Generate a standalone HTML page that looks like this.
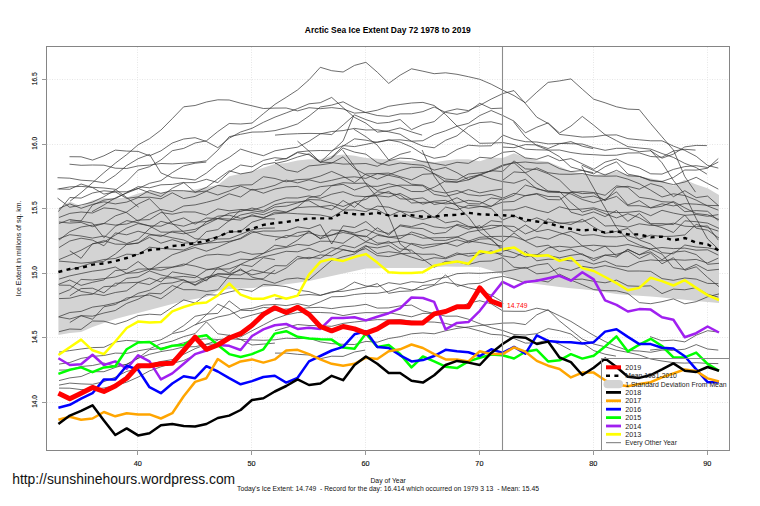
<!DOCTYPE html>
<html><head><meta charset="utf-8"><style>
html,body{margin:0;padding:0;background:#fff;width:760px;height:506px;overflow:hidden}
svg{position:absolute;left:0;top:0;font-family:"Liberation Sans",sans-serif}
</style></head><body>
<svg width="760" height="506" viewBox="0 0 760 506" style="white-space:pre">
<g stroke="#e6e6e6" stroke-width="1" stroke-dasharray="1,1.5" fill="none">
<line x1="137.5" y1="47" x2="137.5" y2="450"/>
<line x1="251.5" y1="47" x2="251.5" y2="450"/>
<line x1="365.5" y1="47" x2="365.5" y2="450"/>
<line x1="479.5" y1="47" x2="479.5" y2="450"/>
<line x1="593.5" y1="47" x2="593.5" y2="450"/>
<line x1="707.5" y1="47" x2="707.5" y2="450"/>
<line x1="47" y1="402.5" x2="730" y2="402.5"/>
<line x1="47" y1="337.5" x2="730" y2="337.5"/>
<line x1="47" y1="273.5" x2="730" y2="273.5"/>
<line x1="47" y1="208.5" x2="730" y2="208.5"/>
<line x1="47" y1="144.5" x2="730" y2="144.5"/>
<line x1="47" y1="79.5" x2="730" y2="79.5"/>
</g>
<polygon points="58.4,208.7 69.8,201.5 81.1,206.3 92.5,200.3 103.9,197.9 115.3,198.4 126.7,197.4 138.1,193.5 149.5,191.1 160.9,193.0 172.3,191.1 183.7,190.7 195.1,189.4 206.4,187.0 217.8,185.0 229.2,176.2 240.6,173.8 252.0,171.4 263.4,167.7 274.8,164.1 286.2,162.9 297.6,160.5 309.0,159.3 320.3,159.3 331.7,155.7 343.1,154.5 354.5,155.7 365.9,158.1 377.3,158.8 388.7,159.5 400.1,160.5 411.5,161.2 422.9,160.5 434.2,162.2 445.6,160.5 457.0,159.3 468.4,159.3 479.8,161.2 491.2,157.4 502.6,158.1 514.0,153.3 525.4,157.4 536.8,160.5 548.1,161.7 559.5,166.5 570.9,171.4 582.3,173.8 593.7,175.0 605.1,173.8 616.5,171.4 627.9,175.0 639.3,176.2 650.7,178.6 662.0,180.5 673.4,185.8 684.8,179.8 696.2,184.6 707.6,188.2 719.0,195.0 719.0,303.0 707.6,302.0 696.2,301.0 684.8,299.8 673.4,298.7 662.0,297.5 650.7,296.6 639.3,295.8 627.9,294.9 616.5,294.0 605.1,292.2 593.7,290.5 582.3,289.3 570.9,288.2 559.5,287.0 548.1,285.5 536.8,284.0 525.4,282.0 514.0,280.0 502.6,274.0 491.2,270.5 479.8,267.0 468.4,266.8 457.0,266.7 445.6,266.5 434.2,267.2 422.9,268.0 411.5,268.0 400.1,268.0 388.7,268.0 377.3,268.3 365.9,268.6 354.5,271.0 343.1,273.4 331.7,275.9 320.3,278.5 309.0,281.0 297.6,282.7 286.2,284.3 274.8,286.0 263.4,287.0 252.0,288.0 240.6,288.5 229.2,289.0 217.8,291.0 206.4,297.0 195.1,299.0 183.7,301.0 172.3,304.0 160.9,307.0 149.5,310.0 138.1,313.0 126.7,316.0 115.3,319.0 103.9,323.0 92.5,327.0 81.1,332.0 69.8,333.0 58.4,335.0" fill="#d3d3d3" stroke="none"/>
<g stroke="#333" stroke-width="0.72" fill="none" stroke-linejoin="miter">
<polyline points="70.1,201.1 81.1,192.7 92.5,182.7 103.9,172.7 115.3,163.2 126.7,154.6 138.1,144.8 149.5,138.7 160.9,130.1 172.3,118.6 183.7,106.8 195.1,105.5 206.4,102.0 217.8,99.8 229.2,100.0 240.6,103.2 252.0,105.8 263.4,108.5 275.0,108.1"/>
<polyline points="69.5,156.7 81.1,156.8 92.5,160.1 103.9,155.8 115.3,150.1 126.7,151.1 138.1,151.4 149.5,155.8 160.9,150.9 172.3,143.0 183.7,139.0 195.1,137.7 206.4,141.5 217.8,147.7 229.2,138.2 240.6,132.0 252.0,128.3 263.4,122.3 275.0,117.1"/>
<polyline points="69.5,164.2 81.1,165.3 92.5,165.0 103.9,165.2 115.3,168.2 126.7,168.5 138.1,165.9 149.5,165.1 160.9,163.5 172.3,163.9 183.7,163.2 195.1,162.4 206.4,160.8 217.8,150.2 229.2,136.7 240.6,134.3 252.0,132.1 263.4,131.9 275.0,130.6"/>
<polyline points="57.5,177.7 69.8,178.2 81.1,180.2 92.5,180.9 103.9,182.8 115.3,175.3 126.7,165.6 138.1,158.7 149.5,154.4 160.9,172.9 172.3,177.7 183.7,178.6 195.1,180.0 206.4,173.1 217.8,163.8 229.2,157.4 240.6,149.1 252.0,152.7 263.4,155.7 275.0,150.8"/>
<polyline points="57.5,189.1 69.8,186.9 81.1,186.4 92.5,187.3 103.9,188.0 115.3,189.3 126.7,197.5 138.6,207.1"/>
<polyline points="57.5,198.1 69.8,207.3 81.1,205.0 92.5,202.1 103.9,196.7 115.3,190.1 126.7,181.8 138.1,170.1 149.5,166.7 160.9,160.0 172.3,150.7 183.7,148.4 195.1,143.0 206.4,140.8 217.8,131.6 229.2,123.5 240.6,124.0 252.0,123.1 263.4,113.7 275.0,104.3"/>
<polyline points="92.0,211.7 103.9,205.0 115.3,197.9 126.7,193.0 138.1,188.6 149.5,183.3 160.9,180.7 172.3,172.6 183.7,165.9 195.1,163.2 206.2,162.1"/>
<polyline points="275.0,104.3 286.2,97.3 297.6,89.9 309.0,79.8 320.3,67.3 331.7,70.7 343.1,72.0 354.5,65.4 365.9,62.3 377.3,72.2 388.7,83.4 400.1,75.2 411.5,68.8 422.9,71.2 434.2,73.7 445.6,72.8 457.0,74.3 468.4,76.7 479.8,79.3 491.2,84.2 503.0,90.3"/>
<polyline points="275.0,108.1 286.2,108.0 297.6,110.9 309.0,107.7 320.3,108.7 331.7,107.6 343.1,108.9 354.5,113.1 365.9,112.4 377.3,110.2 388.7,106.3 400.1,104.5 411.5,103.0 422.9,102.4 434.2,105.5 445.6,114.5 457.0,126.0 468.4,134.4 479.8,143.3 491.2,143.1 503.0,142.6"/>
<polyline points="275.0,117.1 286.2,112.9 297.6,108.6 309.0,103.8 320.3,102.7 331.7,97.4 343.1,107.6 354.5,117.4 365.9,123.2 377.3,132.1 388.7,130.8 400.1,127.9 411.5,131.9 422.1,135.1"/>
<polyline points="275.0,130.6 286.2,127.7 297.6,123.9 309.0,116.1 320.3,107.0 331.7,105.1 343.1,101.8 354.5,107.9 365.9,112.6 377.3,115.5 388.7,116.4 400.1,113.9 411.5,113.8 422.9,111.6 434.2,107.0 445.6,112.4 457.0,114.3 468.4,111.5 479.8,103.3 491.2,108.6 502.9,108.1"/>
<polyline points="275.0,135.1 286.2,134.2 297.6,133.7 309.0,133.4 320.3,133.6 331.7,134.6 343.1,125.0 354.5,114.9 365.9,119.6 377.3,123.4 388.7,122.4 400.1,119.5 411.5,129.7 422.9,124.5 434.2,121.6 445.6,111.6 457.0,108.9 468.4,110.6 479.8,105.3 491.2,99.1 503.0,93.5"/>
<polyline points="275.0,150.8 286.2,148.9 297.6,147.2 309.0,141.3 320.3,133.9 331.7,131.5 343.1,130.6 354.5,128.4 365.9,130.0 377.3,129.8 388.7,131.8 400.1,134.2 411.5,141.3 422.9,146.1 434.2,147.8 445.6,140.3 457.0,135.8 468.4,126.5 479.8,122.6 491.2,121.8 502.9,124.6"/>
<polyline points="297.5,141.1 309.0,151.2 320.3,162.1 331.7,151.6 343.1,140.9 353.7,115.6"/>
<polyline points="331.2,157.6 343.1,146.1 354.5,138.8 365.9,140.2 377.3,142.4 388.7,140.1 400.1,139.8 411.5,141.2 422.9,140.7 434.2,134.6 445.6,130.8 457.0,126.2 468.4,123.4 479.8,115.5 491.2,110.5 503.0,115.6"/>
<polyline points="275.0,160.6 286.2,158.5 297.6,152.0 309.0,150.9 320.3,150.5 331.7,150.7 343.1,145.6 354.5,146.6 365.9,144.4 377.3,142.0 388.7,139.9 400.1,142.1 411.5,147.0 422.9,154.2 434.2,158.3 445.6,156.3 457.0,149.5 468.4,145.2 479.8,146.0 491.2,145.8 503.0,135.1"/>
<polyline points="353.7,129.1 365.9,136.7 377.3,145.2 388.7,160.0 400.1,154.3 410.7,151.6"/>
<polyline points="503.0,93.5 514.0,90.6 525.4,103.5 536.8,117.2 548.1,123.4 559.5,134.4 570.9,135.7 582.3,137.1 593.7,136.8 605.1,135.1 616.5,134.9 627.9,138.7 639.3,139.8 650.7,140.8 662.0,140.8 673.4,146.1 684.8,150.4 696.2,156.3 707.6,165.4 718.3,168.1"/>
<polyline points="503.0,90.3 514.0,95.6 525.4,102.8 536.8,92.2 548.1,82.4 559.5,80.9 570.9,78.9 582.3,89.2 593.7,99.2 605.1,102.8 616.5,106.8 627.9,109.1 639.3,109.6 650.7,123.6 662.0,136.8 673.4,150.0 684.8,176.6 695.5,192.1"/>
<polyline points="503.0,115.6 514.0,121.1 525.4,132.8 536.8,127.2 548.1,122.9 559.5,133.0 570.9,126.1 582.3,116.4 593.7,125.2 605.1,134.7 616.5,140.7 627.9,146.7 639.3,148.0 650.7,149.1 662.0,153.5 673.4,157.4 684.8,163.4 696.2,167.6 706.9,174.1"/>
<polyline points="503.0,135.1 514.0,139.3 525.4,141.7 536.8,142.0 548.1,143.9 559.5,143.4 570.9,143.7 582.3,144.0 593.7,147.7 605.1,150.3 616.5,148.3 627.9,148.4 639.3,151.7 650.7,150.8 662.0,158.2 673.4,154.1 684.8,146.9 696.2,145.4 706.9,145.6"/>
<polyline points="503.0,142.6 514.0,144.6 525.4,149.2 536.8,149.8 548.1,150.1 559.5,150.0 570.9,152.5 582.3,154.1 593.7,154.7 605.1,155.4 616.5,155.2 627.9,153.0 639.3,152.9 650.7,156.5 662.0,157.2 673.4,151.0 684.8,149.3 695.5,150.1"/>
<polyline points="503.0,147.1 514.0,147.7 525.4,144.6 536.8,144.9 548.1,148.5 559.5,143.8 570.9,141.6 582.3,146.2 593.1,148.6"/>
<polyline points="513.5,121.6 525.4,136.7 536.8,145.6 548.1,150.1 559.5,156.7 570.9,167.0 582.3,170.3 593.7,173.9 605.1,166.7 616.5,161.8 627.9,174.1 639.3,176.4 650.7,180.1 662.0,181.9 673.4,184.6 684.8,182.0 696.2,177.3 707.6,183.5 718.3,189.1"/>
<polyline points="581.7,165.1 593.7,170.5 605.1,175.0 616.5,170.3 627.9,175.8 639.3,176.4 650.7,180.8 662.0,181.5 673.4,177.5 684.8,170.0 696.2,170.1 707.6,168.2 718.3,158.5"/>
<polyline points="503.0,165.8 514.0,162.8 525.4,162.0 536.8,163.2 548.1,162.9 559.5,168.6 570.9,171.6 582.3,170.5 593.1,172.6"/>
<polyline points="59.0,189.0 69.8,189.3 81.1,184.0 92.5,187.6 103.9,194.1 115.3,191.9 126.7,198.4 138.1,196.9 149.5,190.4 160.9,193.3 172.3,190.6 183.7,190.7 195.1,192.2 206.4,191.0 217.8,185.4 229.2,186.9 240.6,185.0 252.0,184.8 263.4,176.7 275.0,178.5"/>
<polyline points="59.0,208.5 69.8,203.8 81.1,208.3 92.5,204.4 103.9,201.8 115.3,203.9 126.7,202.1 138.1,197.6 149.5,197.2 160.9,198.8 172.3,192.8 183.7,198.6 195.1,196.4 206.4,191.3 217.8,195.0 229.2,191.0 240.6,186.1 252.0,190.1 263.4,188.5 275.0,185.3"/>
<polyline points="59.0,217.5 69.8,213.4 81.1,212.0 92.5,213.0 103.9,207.9 115.3,208.9 126.7,212.7 138.1,221.1 149.5,214.2 160.9,209.4 172.3,211.7 183.7,206.0 195.1,204.9 206.4,202.3 217.8,199.3 229.2,193.8 240.6,197.0 252.0,189.2 263.4,193.2 275.0,189.0"/>
<polyline points="59.0,222.0 69.8,223.1 81.1,222.4 92.5,226.7 103.9,223.5 115.3,225.1 126.7,224.0 138.1,220.1 149.5,219.6 160.9,212.5 172.3,214.2 183.7,211.9 195.1,212.0 206.4,215.1 217.8,208.9 229.2,210.8 240.6,209.5 252.0,210.2 263.4,206.7 275.0,201.0"/>
<polyline points="59.0,223.5 69.8,219.5 81.1,221.2 92.5,223.1 103.9,237.7 115.3,226.4 126.7,220.6 138.1,222.8 149.5,226.0 160.9,232.1 172.3,232.2 183.7,233.8 195.1,231.6 206.4,221.9 217.8,216.2 229.2,215.2 240.6,218.4 252.0,216.0 263.4,217.5 275.0,213.8"/>
<polyline points="59.0,240.1 69.8,231.6 81.1,227.0 92.5,225.2 103.9,223.5 115.3,215.9 126.7,212.0 138.1,204.0 149.5,198.7 160.9,210.2 172.3,223.5 183.7,232.0 195.1,238.7 206.4,239.6 217.8,236.8 229.2,232.0 240.6,231.6 252.0,222.2 263.4,218.7 274.9,219.0"/>
<polyline points="59.0,247.6 69.8,241.0 81.1,238.2 92.5,240.1 103.9,245.8 115.3,232.9 126.7,234.8 138.1,231.2 149.5,234.1 160.9,236.5 172.3,231.3 183.7,231.2 195.1,229.3 206.4,224.2 217.8,218.6 229.2,220.9 240.6,215.0 252.0,212.6 263.4,214.7 275.0,210.0"/>
<polyline points="59.0,259.6 69.8,255.1 81.1,250.2 92.5,244.0 103.9,240.7 115.3,244.1 126.7,244.4 138.1,243.0 149.5,235.0 160.9,235.2 172.3,237.8 183.7,240.0 195.1,244.8 206.4,243.2 217.8,239.0 229.2,238.8 240.6,234.3 252.0,229.7 263.4,228.2 274.9,228.0"/>
<polyline points="59.0,261.1 69.8,262.0 81.1,263.2 92.5,262.1 103.9,259.5 115.3,258.5 126.7,254.2 138.1,254.6 149.5,247.2 160.9,248.4 172.3,249.2 183.7,250.0 195.1,245.2 206.4,243.1 217.8,242.4 229.2,241.3 240.6,238.8 252.0,232.7 263.4,231.0 275.0,231.1"/>
<polyline points="59.0,279.1 69.8,275.9 81.1,273.5 92.5,271.2 103.9,269.7 115.3,267.0 126.7,273.3 138.1,269.1 149.5,268.9 160.9,267.4 172.3,267.1 183.7,264.0 195.1,266.1 206.4,269.3 217.8,269.2 229.2,268.9 240.6,264.6 252.0,266.5 263.4,257.7 274.9,259.6"/>
<polyline points="59.0,285.1 69.8,285.3 81.1,291.4 92.5,293.5 103.9,295.5 115.3,292.5 126.7,290.8 138.1,282.5 149.5,284.6 160.9,278.2 172.3,277.8 183.7,280.0 195.1,285.4 206.4,279.6 217.8,273.8 229.2,274.6 240.6,275.0 252.0,269.8 263.4,272.2 275.0,265.6"/>
<polyline points="59.0,294.1 69.8,289.7 81.1,279.4 92.5,280.0 103.9,278.6 115.3,277.0 126.7,273.3 138.1,272.6 149.5,269.2 160.9,270.3 172.3,267.3 183.7,265.5 195.1,258.9 206.4,255.1 217.8,254.3 229.2,255.3 240.6,251.7 252.0,254.3 263.4,253.4 275.0,249.1"/>
<polyline points="59.0,298.6 69.8,298.2 81.1,295.2 92.5,294.3 103.9,286.7 115.3,285.9 126.7,278.4 138.1,277.0 149.5,270.9 160.9,274.9 172.3,277.4 183.7,276.4 195.1,277.7 206.4,270.1 217.8,267.5 229.2,263.2 240.6,259.2 252.0,259.6 263.4,256.8 275.0,254.3"/>
<polyline points="59.0,316.6 69.8,312.5 81.1,311.4 92.5,307.1 103.9,305.5 115.3,303.0 126.7,299.8 138.1,293.3 149.5,290.3 160.9,283.8 172.3,282.9 183.7,279.9 195.1,284.8 206.4,277.7 217.8,275.7 229.2,278.6 240.6,278.6 252.0,279.4 263.4,278.7 274.9,270.1"/>
<polyline points="59.0,331.7 69.8,329.0 81.1,329.4 92.5,321.0 103.9,321.2 115.3,324.4 126.7,320.9 138.1,315.6 149.5,314.2 160.9,314.9 172.3,307.3 183.7,299.9 195.1,303.0 206.4,294.6 217.8,295.2 229.2,292.0 240.6,289.4 252.0,291.4 263.4,284.5 275.0,285.3"/>
<polyline points="275.0,163.5 286.2,161.0 297.6,157.0 309.0,153.8 320.3,162.1 331.7,162.6 343.1,164.1 354.5,163.9 365.9,163.5 377.3,166.3 388.7,160.7 400.1,158.1 411.5,158.7 422.9,161.7 434.2,163.4 445.6,165.4 457.0,162.3 468.4,163.4 479.8,157.3 491.2,158.2 503.0,152.3"/>
<polyline points="275.0,178.5 286.2,181.8 297.6,179.6 309.0,179.1 320.3,176.1 331.7,171.4 343.1,176.3 354.5,182.6 365.9,173.9 377.3,173.6 388.7,173.1 400.1,176.7 411.5,179.9 422.9,174.3 434.2,173.6 445.6,179.0 457.0,180.0 468.4,174.0 479.8,172.9 491.2,171.3 503.0,165.8"/>
<polyline points="275.0,185.3 286.2,180.1 297.6,182.9 309.0,179.8 320.3,182.6 331.7,180.3 343.1,177.6 354.5,176.8 365.9,178.4 377.3,173.6 388.7,175.3 400.1,177.8 411.5,184.2 422.9,185.1 434.2,191.2 445.6,193.0 457.0,190.5 468.4,194.6 479.8,195.9 491.2,194.4 503.0,198.0"/>
<polyline points="275.0,189.0 286.2,186.9 297.6,186.4 309.0,190.2 320.3,186.7 331.7,185.5 343.1,182.7 354.5,183.4 365.9,183.1 377.3,190.7 388.7,187.2 400.1,185.1 411.5,185.3 422.9,185.8 434.2,194.4 445.6,196.4 457.0,193.6 468.4,189.6 479.8,192.9 491.2,190.6 502.9,189.0"/>
<polyline points="275.0,201.0 286.2,197.9 297.6,198.0 309.0,195.9 320.3,198.3 331.7,194.2 343.1,191.7 354.5,195.9 365.9,196.7 377.3,195.8 388.7,196.9 400.1,193.4 411.5,199.1 422.9,197.9 434.2,204.5 445.6,202.6 457.0,197.7 468.4,203.6 479.8,204.0 491.2,198.0 503.0,199.5"/>
<polyline points="275.0,210.0 286.2,212.0 297.6,207.7 309.0,206.8 320.3,206.7 331.7,205.3 343.1,210.1 354.5,209.9 365.9,211.7 377.3,206.1 388.7,207.2 400.1,211.2 411.5,217.0 422.9,219.4 434.2,216.6 445.6,222.8 457.0,221.0 468.4,226.3 479.8,228.0 491.2,220.7 502.9,222.1"/>
<polyline points="275.0,213.8 286.2,213.0 297.6,213.8 309.0,214.3 320.3,215.0 331.7,217.3 343.1,210.4 354.5,202.0 365.9,199.4 377.3,191.8 388.7,193.1 400.1,195.1 411.5,203.0 422.9,202.4 434.2,202.1 445.6,203.9 457.0,203.0 468.4,200.3 479.8,201.7 491.2,206.6 502.9,198.0"/>
<polyline points="275.0,231.1 286.2,230.6 297.6,226.9 309.0,228.7 320.3,224.6 331.7,244.0 343.1,225.8 354.5,227.5 365.9,221.5 377.3,230.8 388.7,233.5 400.1,225.9 411.5,227.9 422.9,228.6 434.2,233.8 445.6,232.5 457.0,224.3 468.4,227.0 479.8,227.9 491.2,225.3 503.0,225.8"/>
<polyline points="275.0,240.1 286.2,235.5 297.6,236.4 309.0,232.8 320.3,235.9 331.7,235.0 343.1,232.5 354.5,234.8 365.9,241.6 377.3,235.3 388.7,237.2 400.1,235.7 411.5,234.2 422.9,238.2 434.2,237.8 445.6,237.6 457.0,236.9 468.4,241.1 479.8,237.3 491.2,236.5 503.0,236.3"/>
<polyline points="275.0,249.1 286.2,247.5 297.6,244.4 309.0,245.5 320.3,241.2 331.7,241.3 343.1,243.3 354.5,235.6 365.9,236.1 377.3,243.1 388.7,243.0 400.1,241.3 411.5,244.1 422.9,248.2 434.2,246.1 445.6,243.0 457.0,246.3 468.4,241.1 479.8,242.5 491.2,244.6 502.9,246.1"/>
<polyline points="275.0,254.3 286.2,251.3 297.6,251.8 309.0,248.2 320.3,252.3 331.7,247.7 343.1,249.5 354.5,252.1 365.9,248.6 377.3,255.6 388.7,256.6 400.1,253.8 411.5,253.1 422.9,254.3 434.2,254.1 445.6,257.8 457.0,252.9 468.4,256.2 479.8,254.7 491.2,250.7 503.0,255.9"/>
<polyline points="275.0,265.6 286.2,265.9 297.6,256.4 309.0,258.8 320.3,254.9 331.7,255.8 343.1,249.9 354.5,251.9 365.9,245.4 377.3,253.5 388.7,251.7 400.1,253.1 411.5,257.1 422.9,260.6 434.2,257.7 445.6,258.7 457.0,254.6 468.4,253.5 479.8,252.7 491.2,252.5 502.9,253.6"/>
<polyline points="342.6,150.0 354.5,166.7 365.9,183.9 377.3,197.4 388.7,216.4 400.1,243.9 410.7,252.1"/>
<polyline points="422.1,150.0 434.2,176.3 445.6,192.0 457.0,206.1 468.4,216.9 479.8,232.2 491.2,239.9 503.0,249.1"/>
<polyline points="503.0,180.0 514.0,171.9 525.4,172.7 536.8,167.8 548.1,172.7 559.5,174.2 570.9,174.3 582.3,173.5 593.7,175.9 605.1,176.2 616.5,176.0 627.9,179.2 639.3,183.7 650.7,190.2 662.0,197.0 673.4,193.8 684.8,195.5 696.2,200.1 707.6,206.0 718.3,210.1"/>
<polyline points="503.0,199.5 514.0,195.3 525.4,185.1 536.8,188.2 548.1,192.2 559.5,192.4 570.9,192.6 582.3,191.6 593.7,192.5 605.1,195.3 616.5,185.9 627.9,187.4 639.3,197.3 650.7,198.9 662.0,201.7 673.4,202.3 684.8,211.7 696.2,210.6 707.6,211.3 718.3,220.6"/>
<polyline points="503.0,198.0 514.0,193.3 525.4,195.8 536.8,194.0 548.1,199.5 559.5,199.8 570.9,192.1 582.3,197.6 593.7,196.1 605.1,200.1 616.5,196.4 627.9,205.8 639.3,205.7 650.7,207.7 662.0,203.8 673.4,205.9 684.8,203.6 696.2,204.2 707.6,205.4 718.3,205.6"/>
<polyline points="503.0,210.1 514.0,209.9 525.4,206.5 536.8,210.1 548.1,212.7 559.5,206.8 570.9,209.7 582.3,209.0 593.7,207.8 605.1,211.2 616.5,212.6 627.9,212.3 639.3,211.1 650.7,215.7 662.0,210.3 673.4,213.1 684.8,215.3 696.2,214.5 707.6,216.3 718.3,214.6"/>
<polyline points="503.0,225.8 514.0,226.5 525.4,233.9 536.8,229.5 548.1,218.7 559.5,223.7 570.9,222.1 582.3,221.8 593.7,217.3 605.1,226.0 616.5,225.6 627.9,227.1 639.3,223.8 650.7,225.4 662.0,225.2 673.4,223.2 684.8,226.2 696.2,226.8 707.6,225.9 718.3,240.1"/>
<polyline points="503.0,236.3 514.0,236.9 525.4,240.6 536.8,236.9 548.1,239.2 559.5,234.5 570.9,231.4 582.3,235.4 593.7,234.7 605.1,236.7 616.5,236.9 627.9,235.7 639.3,239.2 650.7,235.1 662.0,236.5 673.4,236.2 684.8,234.9 696.2,224.4 707.6,227.6 718.3,231.1"/>
<polyline points="503.0,249.1 514.0,252.8 525.4,256.9 536.8,254.9 548.1,247.8 559.5,246.3 570.9,247.4 582.3,246.0 593.7,245.2 605.1,246.2 616.5,246.4 627.9,244.5 639.3,247.0 650.7,248.9 662.0,247.5 673.4,248.6 684.8,248.1 696.2,250.2 707.6,249.8 718.3,255.1"/>
<polyline points="503.0,255.9 514.0,257.7 525.4,251.5 536.8,260.8 548.1,259.2 559.5,259.3 570.9,261.0 582.3,260.2 593.7,264.1 605.1,261.0 616.5,265.9 627.9,266.8 639.3,261.7 650.7,259.9 662.0,260.8 673.4,259.6 684.8,260.2 696.2,259.4 707.6,263.0 718.3,258.1"/>
<polyline points="503.0,271.8 514.0,269.8 525.4,267.3 536.8,273.8 548.1,272.9 559.5,267.9 570.9,270.4 582.3,266.4 593.7,268.0 605.1,265.6 616.5,268.1 627.9,271.1 639.3,271.0 650.7,271.4 662.0,278.6 673.4,280.3 684.8,278.0 696.2,279.1 707.6,283.4 718.3,283.6"/>
<polyline points="503.0,276.3 514.0,279.1 525.4,283.0 536.8,279.9 548.1,282.0 559.5,274.2 570.9,279.6 582.3,279.1 593.7,281.3 605.1,282.8 616.5,280.1 627.9,285.9 639.3,286.3 650.7,285.8 662.0,293.6 673.4,289.1 684.8,289.8 696.2,287.6 707.6,294.2 718.3,297.1"/>
<polyline points="581.7,166.5 593.7,188.1 605.1,207.9 616.5,227.5 627.9,239.9 639.3,245.0 650.1,249.1"/>
<polyline points="650.1,150.0 662.0,162.8 673.4,180.4 684.8,194.7 696.2,218.6 707.6,238.9 718.3,249.1"/>
<polyline points="503.0,152.3 514.0,151.2 525.4,157.9 536.8,159.3 548.1,155.5 559.5,160.7 570.9,158.6 582.3,163.8 593.7,169.3 605.1,162.1 616.5,159.0 627.9,164.5 639.3,167.9 650.7,173.8 662.0,174.1 673.4,169.4 684.8,166.6 696.2,165.7 707.6,167.5 718.3,162.0"/>
<polyline points="59.0,352.1 69.8,350.6 81.1,349.0 92.5,347.6 103.9,347.3 115.3,342.0 126.7,340.4 138.1,341.3 149.5,342.3 160.9,339.8 172.3,333.6 183.7,331.1 195.1,324.7 206.4,320.8 217.8,317.0 229.2,314.7 240.6,310.2 252.0,310.7 263.4,307.4 274.9,308.5"/>
<polyline points="59.0,364.1 69.8,362.5 81.1,358.4 92.5,356.4 103.9,355.5 115.3,353.1 126.7,353.4 138.1,350.8 149.5,348.8 160.9,343.7 172.3,341.1 183.7,336.6 195.1,333.6 206.4,321.8 217.8,333.8 229.2,335.3 240.6,336.8 252.0,330.8 263.4,324.9 275.0,318.8"/>
<polyline points="59.0,370.1 69.8,369.9 81.1,366.5 92.5,365.5 103.9,363.0 115.3,366.3 126.7,364.5 138.1,358.2 149.5,349.7 160.9,348.3 172.3,345.8 183.7,342.8 195.1,339.8 206.4,338.8 217.8,339.5 229.2,338.7 240.6,339.4 252.0,339.9 263.4,340.3 275.0,339.8"/>
<polyline points="59.0,380.6 69.8,377.9 81.1,376.5 92.5,371.7 103.9,371.7 115.3,367.5 126.7,364.2 138.1,358.3 149.5,354.3 160.9,351.6 172.3,349.7 183.7,346.9 195.1,346.7 206.4,344.2 217.8,344.1 229.2,335.1 240.6,339.5 252.0,345.0 263.4,344.1 274.9,343.1"/>
<polyline points="59.0,385.1 69.8,383.1 81.1,383.9 92.5,384.3 103.9,381.7 115.3,377.2 126.7,371.4 138.1,368.7 149.5,364.8 160.9,361.5 172.3,359.6 183.7,354.3 195.1,348.7 206.4,344.3 218.2,340.1"/>
<polyline points="59.0,388.1 69.8,388.2 81.1,389.6 92.5,389.1 103.9,388.0 115.3,385.5 126.7,382.2 138.1,377.1 149.5,370.9 160.9,366.8 172.3,363.4 183.7,360.5 195.3,355.1"/>
<polyline points="172.5,332.6 183.7,325.6 195.1,316.3 206.4,314.1 217.8,313.4 229.2,300.9 240.6,309.6 252.0,308.3 263.4,305.1 275.0,304.5"/>
<polyline points="195.3,325.0 206.4,314.7 217.8,304.1 229.2,309.3 240.6,318.3 252.0,315.1 263.4,312.1 275.0,310.5"/>
<polyline points="275.0,285.3 286.2,286.6 297.6,290.1 309.0,291.6 320.3,295.3 331.7,292.6 343.1,288.9 354.5,282.1 365.9,286.0 377.3,286.8 388.7,282.7 400.1,284.3 411.5,281.7 422.9,282.6 434.2,279.4 445.6,277.4 457.0,273.7 468.4,273.0 479.8,273.4 491.2,272.6 503.0,271.8"/>
<polyline points="275.0,299.0 286.2,298.4 297.6,295.5 309.0,294.5 320.3,295.4 331.7,291.8 343.1,291.3 354.5,289.3 365.9,287.1 377.3,283.6 388.7,293.3 400.1,291.4 411.5,290.9 422.9,285.4 434.2,284.6 445.6,274.9 457.0,286.3 468.4,283.9 479.8,283.3 491.2,278.4 503.0,276.3"/>
<polyline points="275.0,304.5 286.2,305.6 297.6,303.7 309.0,306.1 320.3,301.8 331.7,296.8 343.1,296.5 354.5,294.5 365.9,293.4 377.3,293.3 388.7,291.4 400.1,287.6 411.5,289.9 422.9,289.4 434.2,285.3 445.6,282.3 457.0,284.3 468.4,287.7 479.8,290.7 491.2,295.1 502.9,302.0"/>
<polyline points="275.0,310.5 286.2,309.0 297.6,309.1 309.0,307.7 320.3,307.3 331.7,308.6 343.1,306.9 354.5,306.0 365.9,304.3 377.3,308.1 388.7,307.9 400.1,305.9 411.5,305.1 422.9,310.9 434.2,313.5 445.6,312.6 457.0,308.8 468.4,303.2 479.8,300.7 491.2,303.8 503.0,311.1"/>
<polyline points="275.0,318.8 286.2,314.9 297.6,312.6 309.0,312.4 320.3,312.5 331.7,313.0 343.1,315.6 354.5,313.6 365.9,312.6 377.3,312.8 388.7,312.7 400.1,314.7 411.5,316.8 422.9,313.4 434.2,313.3 445.6,316.2 457.0,316.1 468.4,319.2 479.8,323.7 491.2,327.7 503.0,330.6"/>
<polyline points="275.0,330.6 286.2,327.5 297.6,324.5 309.0,325.5 320.3,325.7 331.7,326.3 343.1,323.4 354.5,322.0 365.9,320.8 377.3,319.6 388.7,319.9 400.1,319.5 411.5,321.2 422.9,321.8 434.2,322.1 445.6,323.4 457.0,326.3 468.4,327.9 479.8,331.0 491.2,334.3 503.0,335.1"/>
<polyline points="275.0,339.8 286.2,338.2 297.6,338.6 309.0,338.2 320.3,341.9 331.7,343.6 343.1,344.3 354.5,344.5 365.9,341.4 377.3,342.2 388.7,338.5 400.1,336.7 411.5,333.8 422.9,332.9 434.2,333.8 445.6,330.8 457.0,328.4 468.4,326.9 479.8,325.5 491.2,324.4 503.0,323.1"/>
<polyline points="275.0,353.1 286.2,353.1 297.6,354.3 309.0,355.0 320.3,358.7 331.7,356.2 343.1,356.4 354.5,352.0 365.1,350.1"/>
<polyline points="503.0,311.1 514.0,311.3 525.4,311.3 536.8,308.2 548.1,310.4 559.5,315.8 570.9,321.4 582.3,328.5 593.7,335.4 605.1,341.5 616.5,346.5 627.9,350.5 639.3,351.0 650.7,352.3 662.0,350.1 672.7,350.1"/>
<polyline points="503.0,323.1 514.0,322.9 525.4,324.6 536.8,314.8 548.1,309.7 559.5,320.9 570.9,330.1 582.3,339.1 593.7,344.0 605.1,346.8 615.9,350.1"/>
<polyline points="503.0,330.6 514.0,334.5 525.4,335.0 536.8,333.7 548.1,328.6 559.5,330.7 570.9,334.0 582.3,342.9 593.7,350.6 605.1,354.2 615.9,356.1"/>
<polyline points="503.0,335.1 514.0,338.5 525.4,343.1 536.8,342.8 548.1,339.9 559.5,344.3 570.6,350.1"/>
<polyline points="650.1,336.6 662.0,340.8 673.4,340.1 684.8,341.9 696.2,335.2 707.6,330.7 718.3,332.1"/>
<polyline points="650.1,350.1 662.0,348.8 673.4,350.3 684.8,349.2 696.2,344.6 707.6,349.0 718.3,350.1"/>
<polyline points="615.9,350.1 627.9,352.3 639.3,355.0 650.7,359.0 662.0,361.0 673.4,362.6 684.8,363.1 696.2,362.7 707.6,363.4 718.3,363.6"/>
<polyline points="58.4,211.6 69.8,197.5 81.1,198.1 92.5,193.0 103.9,190.8 115.3,191.8 126.7,191.8 138.1,188.4 149.5,192.8 160.9,196.5 172.3,188.3 183.7,182.7 195.1,182.6 206.4,179.3 217.8,182.6 229.2,172.1 240.6,165.0 252.0,166.8 263.4,160.4 274.8,157.7 286.2,158.9 297.6,152.6 309.0,154.7 320.3,162.4 331.7,158.0 343.1,148.1 354.5,152.1 365.9,154.2 377.3,162.7 388.7,165.4 400.1,163.0 411.5,164.4 422.9,165.3 434.2,170.1 445.6,167.4 457.0,172.7 468.4,179.6 479.8,174.5 491.2,170.7 502.6,171.5 514.0,160.9 525.4,168.9 536.8,169.5 548.1,173.7 559.5,180.0 570.9,191.2 582.3,193.6 593.7,193.1 605.1,200.8 616.5,187.4 627.9,186.3 639.3,189.2 650.7,183.6 662.0,186.7 673.4,196.7 684.8,190.7 696.2,197.6 707.6,196.1 719.0,206.1"/>
<polyline points="69.8,221.1 81.1,220.9 92.5,205.1 103.9,200.1 115.3,198.6 126.7,192.7 138.1,186.6 149.5,187.8 160.9,184.8 172.3,184.4 183.7,182.5 195.1,192.3 206.4,187.4 217.8,179.0 229.2,170.8 240.6,173.9 252.0,171.9 263.4,164.7 274.8,162.5 286.2,169.9 297.6,172.1 309.0,165.9 320.3,164.9 331.7,163.2 343.1,156.8 354.5,168.6 365.9,174.7 377.3,179.2 388.7,174.7 400.1,170.5 411.5,167.3 422.9,167.4 434.2,173.8 445.6,181.9 457.0,182.2 468.4,177.3 479.8,174.8 491.2,178.8 502.6,181.6 514.0,183.2 525.4,179.3 536.8,189.0 548.1,191.2 559.5,192.2 570.9,193.9 582.3,199.5 593.7,202.7 605.1,199.3 616.5,191.8 627.9,204.9 639.3,200.6 650.7,208.0 662.0,206.2 673.4,201.5 684.8,207.8 696.2,213.6 707.6,214.8 719.0,219.5"/>
<polyline points="58.4,238.9 69.8,234.7 81.1,236.0 92.5,238.1 103.9,236.0 115.3,239.5 126.7,243.5 138.1,239.5 149.5,228.6 160.9,221.3 172.3,224.2 183.7,226.2 195.1,222.3 206.4,221.6 217.8,218.5 229.2,213.2 240.6,211.5 252.0,208.0 263.4,210.9 274.8,204.7 286.2,202.3 297.6,202.0 309.0,200.7 320.3,206.9 331.7,209.7 343.1,200.5 354.5,207.3 365.9,196.6 377.3,195.0 388.7,191.4 400.1,198.8 411.5,199.3 422.9,204.2 434.2,201.1 445.6,200.4 457.0,205.6 468.4,208.3 479.8,206.6 491.2,206.1 502.6,202.1 514.0,201.4 525.4,195.6 536.8,193.5 548.1,196.5 559.5,196.7 570.9,212.2 582.3,215.3 593.7,211.9 605.1,216.6 616.5,210.5 627.9,221.3 639.3,213.5 650.7,223.6 662.0,223.6 673.4,224.6 684.8,215.1 696.2,228.2 707.6,230.2 719.0,238.1"/>
<polyline points="69.8,250.8 81.1,258.3 92.5,243.7 103.9,242.1 115.3,235.1 126.7,228.1 138.1,223.6 149.5,225.8 160.9,226.2 172.3,221.5 183.7,217.9 195.1,224.1 206.4,218.0 217.8,218.5 229.2,219.0 240.6,220.1 252.0,214.7 263.4,218.2 274.8,212.2 286.2,212.5 297.6,206.9 309.0,197.7 320.3,195.6 331.7,185.8 343.1,184.3 354.5,190.0 365.9,186.1 377.3,186.4 388.7,183.6 400.1,186.4 411.5,191.5 422.9,191.6 434.2,187.2 445.6,180.9 457.0,182.1 468.4,179.9 479.8,175.3 491.2,170.3 502.6,165.0 514.0,162.7 525.4,173.0 536.8,183.1 548.1,191.1 559.5,191.5 570.9,202.5 582.3,212.0 593.7,209.0 605.1,213.7 616.5,217.9 627.9,213.7 639.3,217.7 650.7,224.3 662.0,227.6 673.4,232.5 684.8,220.8 696.2,221.7 707.6,223.1 719.0,228.4"/>
<polyline points="69.8,270.0 81.1,266.4 92.5,262.8 103.9,261.3 115.3,254.0 126.7,244.5 138.1,243.1 149.5,237.3 160.9,243.2 172.3,239.7 183.7,243.1 195.1,242.5 206.4,231.6 217.8,229.6 229.2,220.6 240.6,209.9 252.0,210.7 263.4,212.3 274.8,206.9 286.2,206.1 297.6,202.9 309.0,199.5 320.3,200.0 331.7,203.1 343.1,206.5 354.5,201.9 365.9,208.8 377.3,209.7 388.7,216.0 400.1,211.1 411.5,212.5 422.9,210.4 434.2,217.8 445.6,207.1 457.0,209.8 468.4,205.4 479.8,206.2 491.2,208.5 502.6,220.0 514.0,215.6 525.4,221.9 536.8,217.8 548.1,222.2 559.5,222.7 570.9,224.5 582.3,219.3 593.7,227.0 605.1,233.3 616.5,231.4 627.9,228.4 639.3,239.9 650.7,244.0 662.0,252.7 673.4,253.8 684.8,245.0 696.2,247.0 707.6,247.8 719.0,249.9"/>
<polyline points="58.4,284.4 69.8,280.0 81.1,285.4 92.5,282.3 103.9,279.9 115.3,270.6 126.7,269.4 138.1,261.5 149.5,270.1 160.9,262.0 172.3,254.8 183.7,251.0 195.1,247.5 206.4,251.2 217.8,247.2 229.2,242.2 240.6,238.2 252.0,230.9 263.4,234.9 274.8,236.6 286.2,237.7 297.6,232.5 309.0,231.0 320.3,238.8 331.7,235.1 343.1,230.5 354.5,233.0 365.9,229.4 377.3,234.0 388.7,237.2 400.1,238.5 411.5,232.0 422.9,235.2 434.2,240.3 445.6,240.4 457.0,237.1 468.4,232.1 479.8,230.1 491.2,228.4 502.6,225.2 514.0,232.1 525.4,224.9 536.8,231.7 548.1,229.4 559.5,232.7 570.9,236.2 582.3,245.9 593.7,251.1 605.1,246.1 616.5,255.9 627.9,249.6 639.3,254.7 650.7,251.8 662.0,259.8 673.4,252.2 684.8,251.0 696.2,254.6 707.6,264.3 719.0,263.3"/>
<polyline points="69.8,295.8 81.1,288.6 92.5,288.2 103.9,292.9 115.3,283.3 126.7,282.8 138.1,282.3 149.5,278.0 160.9,281.9 172.3,271.9 183.7,273.8 195.1,275.7 206.4,281.0 217.8,267.5 229.2,273.1 240.6,264.3 252.0,259.2 263.4,253.4 274.8,245.2 286.2,246.8 297.6,240.1 309.0,231.1 320.3,238.5 331.7,230.0 343.1,230.6 354.5,234.5 365.9,236.9 377.3,227.8 388.7,235.1 400.1,224.9 411.5,226.6 422.9,223.3 434.2,226.9 445.6,228.1 457.0,225.3 468.4,229.3 479.8,225.6 491.2,237.0 502.6,242.0 514.0,233.0 525.4,241.2 536.8,246.9 548.1,245.2 559.5,251.6 570.9,249.1 582.3,254.8 593.7,258.5 605.1,255.1 616.5,257.1 627.9,249.2 639.3,254.9 650.7,249.2 662.0,254.1 673.4,267.8 684.8,269.5 696.2,264.4 707.6,270.5 719.0,269.3"/>
<polyline points="58.4,316.9 69.8,319.0 81.1,315.7 92.5,316.2 103.9,313.0 115.3,310.5 126.7,303.4 138.1,299.2 149.5,293.2 160.9,293.8 172.3,285.5 183.7,289.7 195.1,289.7 206.4,291.4 217.8,289.8 229.2,276.0 240.6,268.8 252.0,277.1 263.4,279.8 274.8,283.3 286.2,279.1 297.6,278.0 309.0,279.8 320.3,270.2 331.7,260.4 343.1,256.8 354.5,254.0 365.9,246.5 377.3,247.9 388.7,245.5 400.1,252.0 411.5,243.4 422.9,245.4 434.2,244.0 445.6,243.4 457.0,239.8 468.4,242.8 479.8,239.1 491.2,238.6 502.6,251.3 514.0,247.9 525.4,254.5 536.8,254.8 548.1,255.5 559.5,257.8 570.9,255.3 582.3,253.8 593.7,260.8 605.1,255.1 616.5,254.3 627.9,251.1 639.3,258.6 650.7,253.2 662.0,263.8 673.4,257.7 684.8,270.3 696.2,266.8 707.6,277.4 719.0,286.7"/>
<polyline points="69.8,322.5 81.1,315.7 92.5,319.3 103.9,306.8 115.3,304.5 126.7,298.0 138.1,296.3 149.5,295.0 160.9,298.8 172.3,290.6 183.7,282.1 195.1,282.1 206.4,277.1 217.8,273.9 229.2,274.0 240.6,270.1 252.0,274.9 263.4,272.4 274.8,273.7 286.2,268.0 297.6,259.0 309.0,257.3 320.3,258.4 331.7,251.2 343.1,245.3 354.5,247.8 365.9,241.9 377.3,245.0 388.7,241.3 400.1,248.8 411.5,250.2 422.9,259.1 434.2,267.3 445.6,261.3 457.0,261.8 468.4,264.6 479.8,261.4 491.2,261.0 502.6,257.6 514.0,267.2 525.4,268.3 536.8,265.0 548.1,263.5 559.5,276.3 570.9,280.0 582.3,284.7 593.7,289.6 605.1,290.6 616.5,290.8 627.9,293.5 639.3,302.6 650.7,303.7 662.0,301.7 673.4,298.9 684.8,303.8 696.2,301.7 707.6,296.8 719.0,293.9"/>
</g>
<polyline points="58.4,272.0 69.8,269.0 81.1,268.0 92.5,264.6 103.9,263.5 115.3,261.0 126.7,258.0 138.1,254.0 149.5,250.0 160.9,249.0 172.3,246.0 183.7,245.0 195.1,243.2 206.4,240.8 217.8,237.0 229.2,231.7 240.6,231.2 252.0,228.8 263.4,224.9 274.8,223.2 286.2,222.0 297.6,220.1 309.0,218.4 320.3,218.4 331.7,218.4 343.1,212.4 354.5,214.3 365.9,214.3 377.3,212.8 388.7,215.3 400.1,216.0 411.5,215.3 422.9,216.7 434.2,216.7 445.6,215.3 457.0,214.8 468.4,212.8 479.8,214.3 491.2,214.8 502.6,215.3 514.0,216.0 525.4,219.6 536.8,221.5 548.1,223.2 559.5,226.5 570.9,228.8 582.3,230.4 593.7,229.5 605.1,232.6 616.5,231.2 627.9,234.4 639.3,234.4 650.7,237.4 662.0,236.6 673.4,240.4 684.8,238.0 696.2,242.6 707.6,244.3 719.0,250.7" fill="none" stroke="#000" stroke-width="2.4" stroke-dasharray="4,4.4"/>
<polyline points="58.4,355.0 69.8,347.2 81.1,339.6 92.5,350.3 103.9,354.1 115.3,341.5 126.7,328.0 138.1,321.6 149.5,322.5 160.9,322.0 172.3,311.4 183.7,307.0 195.1,303.6 206.4,302.5 217.8,295.5 229.2,283.5 240.6,294.6 252.0,298.7 263.4,298.7 274.8,295.1 286.2,298.7 297.6,295.6 309.0,274.6 320.3,261.8 331.7,258.9 343.1,260.9 354.5,257.0 365.9,254.1 377.3,262.6 388.7,272.2 400.1,273.0 411.5,273.0 422.9,272.2 434.2,265.7 445.6,263.3 457.0,261.4 468.4,263.8 479.8,251.2 491.2,252.9 502.6,249.3 514.0,247.4 525.4,254.6 536.8,256.0 548.1,255.3 559.5,260.9 570.9,257.7 582.3,268.1 593.7,271.0 605.1,277.0 616.5,283.1 627.9,290.3 639.3,287.9 650.7,277.8 662.0,281.1 673.4,285.5 684.8,280.2 696.2,287.9 707.6,295.1 719.0,300.0" fill="none" stroke="#ffff00" stroke-width="2.5" stroke-linejoin="round"/>
<polyline points="58.4,358.2 69.8,365.0 81.1,364.2 92.5,354.8 103.9,365.0 115.3,361.4 126.7,368.6 138.1,355.3 149.5,361.4 160.9,379.4 172.3,373.4 183.7,363.8 195.1,354.1 206.4,350.5 217.8,345.0 229.2,345.8 240.6,350.0 252.0,336.0 263.4,329.4 274.8,325.3 286.2,324.0 297.6,328.9 309.0,327.7 320.3,328.9 331.7,318.0 343.1,318.0 354.5,317.3 365.9,320.4 377.3,316.8 388.7,313.2 400.1,308.4 411.5,297.5 422.9,298.0 434.2,301.9 445.6,329.4 457.0,322.9 468.4,322.1 479.8,310.8 491.2,296.3 502.6,281.9 514.0,287.4 525.4,281.9 536.8,280.7 548.1,278.2 559.5,275.8 570.9,280.7 582.3,272.2 593.7,279.4 605.1,300.4 616.5,304.8 627.9,311.5 639.3,309.1 650.7,309.6 662.0,317.3 673.4,319.7 684.8,337.3 696.2,333.2 707.6,326.5 719.0,332.5" fill="none" stroke="#a020f0" stroke-width="2.5" stroke-linejoin="round"/>
<polyline points="58.4,373.9 69.8,369.8 81.1,367.4 92.5,372.2 103.9,367.4 115.3,366.2 126.7,349.3 138.1,342.5 149.5,342.0 160.9,349.3 172.3,345.7 183.7,345.0 195.1,337.2 206.4,335.3 217.8,345.0 229.2,354.1 240.6,357.0 252.0,354.1 263.4,349.3 274.8,333.6 286.2,331.2 297.6,336.8 309.0,338.4 320.3,339.2 331.7,339.6 343.1,347.4 354.5,348.8 365.9,333.6 377.3,346.9 388.7,345.0 400.1,354.1 411.5,367.4 422.9,356.5 434.2,361.4 445.6,366.7 457.0,368.1 468.4,361.4 479.8,357.7 491.2,354.6 502.6,355.3 514.0,358.5 525.4,351.7 536.8,349.8 548.1,361.4 559.5,360.3 570.9,354.2 582.3,358.6 593.7,355.7 605.1,346.5 616.5,336.4 627.9,351.4 639.3,344.6 650.7,338.8 662.0,346.0 673.4,357.4 684.8,357.4 696.2,352.6 707.6,363.9 719.0,370.7" fill="none" stroke="#00ff00" stroke-width="2.5" stroke-linejoin="round"/>
<polyline points="58.4,407.7 69.8,404.8 81.1,398.7 92.5,393.2 103.9,379.4 115.3,379.4 126.7,365.7 138.1,369.8 149.5,387.2 160.9,393.2 172.3,383.5 183.7,376.3 195.1,378.2 206.4,366.2 217.8,371.5 229.2,378.2 240.6,384.3 252.0,381.1 263.4,377.0 274.8,375.8 286.2,382.6 297.6,377.8 309.0,361.4 320.3,356.0 331.7,350.5 343.1,346.9 354.5,334.3 365.9,331.2 377.3,346.9 388.7,348.0 400.1,355.3 411.5,361.4 422.9,360.1 434.2,356.0 445.6,349.8 457.0,351.2 468.4,352.2 479.8,356.0 491.2,349.3 502.6,352.9 514.0,346.9 525.4,353.6 536.8,335.3 548.1,340.9 559.5,342.1 570.9,342.2 582.3,343.6 593.7,342.2 605.1,331.6 616.5,329.2 627.9,336.9 639.3,344.1 650.7,344.1 662.0,347.7 673.4,348.5 684.8,356.2 696.2,369.4 707.6,382.2 719.0,382.2" fill="none" stroke="#0000ff" stroke-width="2.5" stroke-linejoin="round"/>
<polyline points="58.4,419.7 69.8,416.8 81.1,419.7 92.5,418.5 103.9,412.0 115.3,416.3 126.7,413.2 138.1,414.4 149.5,414.4 160.9,418.5 172.3,413.2 183.7,396.3 195.1,381.9 206.4,378.2 217.8,359.0 229.2,366.7 240.6,361.4 252.0,359.4 263.4,362.6 274.8,359.4 286.2,350.5 297.6,349.8 309.0,354.1 320.3,359.4 331.7,363.8 343.1,365.7 354.5,363.8 365.9,357.7 377.3,359.0 388.7,351.2 400.1,349.3 411.5,344.5 422.9,348.0 434.2,354.1 445.6,359.4 457.0,359.4 468.4,361.4 479.8,351.2 491.2,354.1 502.6,354.1 514.0,347.4 525.4,351.7 536.8,360.9 548.1,365.7 559.5,369.0 570.9,377.4 582.3,372.6 593.7,372.6 605.1,380.3 616.5,384.6 627.9,386.3 639.3,383.9 650.7,382.2 662.0,377.4 673.4,373.5 684.8,369.4 696.2,371.1 707.6,378.4 719.0,381.5" fill="none" stroke="#ffa500" stroke-width="2.5" stroke-linejoin="round"/>
<polyline points="58.4,424.0 69.8,415.6 81.1,410.8 92.5,405.3 103.9,420.4 115.3,435.0 126.7,428.4 138.1,435.4 149.5,433.2 160.9,425.3 172.3,424.0 183.7,426.0 195.1,426.5 206.4,424.0 217.8,418.0 229.2,415.6 240.6,410.0 252.0,400.0 263.4,398.3 274.8,391.5 286.2,386.0 297.6,379.4 309.0,385.0 320.3,383.5 331.7,375.8 343.1,380.2 354.5,365.0 365.9,356.5 377.3,363.8 388.7,373.0 400.1,373.0 411.5,380.7 422.9,382.6 434.2,375.3 445.6,365.0 457.0,360.9 468.4,362.6 479.8,365.0 491.2,352.9 502.6,344.0 514.0,336.8 525.4,337.7 536.8,344.0 548.1,341.6 559.5,357.5 570.9,362.2 582.3,375.0 593.7,367.8 605.1,358.6 616.5,367.0 627.9,376.7 639.3,377.9 650.7,375.0 662.0,369.4 673.4,363.4 684.8,370.7 696.2,371.9 707.6,367.0 719.0,370.7" fill="none" stroke="#000000" stroke-width="2.5" stroke-linejoin="round"/>
<polyline points="58.4,393.2 69.8,398.7 81.1,393.2 92.5,387.4 103.9,391.5 115.3,386.0 126.7,378.2 138.1,365.7 149.5,365.7 160.9,363.8 172.3,363.3 183.7,350.5 195.1,337.2 206.4,349.3 217.8,345.0 229.2,338.0 240.6,333.7 252.0,325.3 263.4,314.4 274.8,307.7 286.2,312.5 297.6,307.2 309.0,314.4 320.3,326.5 331.7,330.8 343.1,326.5 354.5,328.9 365.9,333.2 377.3,328.9 388.7,322.0 400.1,322.1 411.5,322.9 422.9,322.9 434.2,313.9 445.6,311.5 457.0,306.7 468.4,306.7 479.8,287.9 491.2,301.2 502.6,305.3" fill="none" stroke="#ff0000" stroke-width="5" stroke-linejoin="round"/>
<line x1="502.5" y1="47" x2="502.5" y2="450" stroke="#8c8c8c" stroke-width="1.1"/>
<rect x="46.5" y="46.5" width="683" height="404" fill="none" stroke="#858585" stroke-width="1"/>
<g stroke="#999" stroke-width="1">
<line x1="137.5" y1="450" x2="137.5" y2="455"/>
<line x1="251.5" y1="450" x2="251.5" y2="455"/>
<line x1="365.5" y1="450" x2="365.5" y2="455"/>
<line x1="479.5" y1="450" x2="479.5" y2="455"/>
<line x1="593.5" y1="450" x2="593.5" y2="455"/>
<line x1="707.5" y1="450" x2="707.5" y2="455"/>
<line x1="42" y1="402.5" x2="47" y2="402.5"/>
<line x1="42" y1="337.5" x2="47" y2="337.5"/>
<line x1="42" y1="273.5" x2="47" y2="273.5"/>
<line x1="42" y1="208.5" x2="47" y2="208.5"/>
<line x1="42" y1="144.5" x2="47" y2="144.5"/>
<line x1="42" y1="79.5" x2="47" y2="79.5"/>
</g>
<rect x="601.5" y="358.5" width="128" height="92" fill="none" stroke="#8a8a8a" stroke-width="1"/>
<line x1="606" y1="367.3" x2="621" y2="367.3" stroke="#ff0000" stroke-width="4"/>
<text x="625.3" y="369.9" font-size="6.9" fill="#222" textLength="15.9" lengthAdjust="spacingAndGlyphs">2019</text>
<line x1="606" y1="375.7" x2="621" y2="375.7" stroke="#000" stroke-width="2.6" stroke-dasharray="4,4.4"/>
<text x="625.3" y="378.3" font-size="6.9" fill="#222" textLength="51.6" lengthAdjust="spacingAndGlyphs">Mean 1981-2010</text>
<rect x="603.5" y="380.1" width="19.5" height="8.2" rx="4" fill="#d3d3d3"/>
<text x="625.3" y="386.7" font-size="6.9" fill="#222" textLength="101.3" lengthAdjust="spacingAndGlyphs">1 Standard Deviation From Mean</text>
<line x1="606" y1="392.4" x2="621" y2="392.4" stroke="#000000" stroke-width="2.8"/>
<text x="625.3" y="395.0" font-size="6.9" fill="#222" textLength="15.9" lengthAdjust="spacingAndGlyphs">2018</text>
<line x1="606" y1="400.8" x2="621" y2="400.8" stroke="#ffa500" stroke-width="2.8"/>
<text x="625.3" y="403.4" font-size="6.9" fill="#222" textLength="15.9" lengthAdjust="spacingAndGlyphs">2017</text>
<line x1="606" y1="409.2" x2="621" y2="409.2" stroke="#0000ff" stroke-width="2.8"/>
<text x="625.3" y="411.8" font-size="6.9" fill="#222" textLength="15.9" lengthAdjust="spacingAndGlyphs">2016</text>
<line x1="606" y1="417.6" x2="621" y2="417.6" stroke="#00ff00" stroke-width="2.8"/>
<text x="625.3" y="420.2" font-size="6.9" fill="#222" textLength="15.9" lengthAdjust="spacingAndGlyphs">2015</text>
<line x1="606" y1="426.0" x2="621" y2="426.0" stroke="#a020f0" stroke-width="2.8"/>
<text x="625.3" y="428.6" font-size="6.9" fill="#222" textLength="15.9" lengthAdjust="spacingAndGlyphs">2014</text>
<line x1="606" y1="434.3" x2="621" y2="434.3" stroke="#ffff00" stroke-width="2.8"/>
<text x="625.3" y="436.9" font-size="6.9" fill="#222" textLength="15.9" lengthAdjust="spacingAndGlyphs">2013</text>
<line x1="606" y1="442.7" x2="621" y2="442.7" stroke="#505050" stroke-width="0.8"/>
<text x="625.3" y="445.3" font-size="6.9" fill="#222" textLength="51.6" lengthAdjust="spacingAndGlyphs">Every Other Year</text>
<text x="507" y="308" font-size="6.9" fill="#ff0000" textLength="20.6" lengthAdjust="spacingAndGlyphs">14.749</text>
<text x="137.7" y="465.8" font-size="7.3" text-anchor="middle" fill="#111" stroke="#111" stroke-width="0.15">40</text>
<text x="251.6" y="465.8" font-size="7.3" text-anchor="middle" fill="#111" stroke="#111" stroke-width="0.15">50</text>
<text x="365.5" y="465.8" font-size="7.3" text-anchor="middle" fill="#111" stroke="#111" stroke-width="0.15">60</text>
<text x="479.4" y="465.8" font-size="7.3" text-anchor="middle" fill="#111" stroke="#111" stroke-width="0.15">70</text>
<text x="593.3" y="465.8" font-size="7.3" text-anchor="middle" fill="#111" stroke="#111" stroke-width="0.15">80</text>
<text x="707.2" y="465.8" font-size="7.3" text-anchor="middle" fill="#111" stroke="#111" stroke-width="0.15">90</text>
<text transform="translate(37.4,401.4) rotate(-90)" font-size="7" stroke="#111" stroke-width="0.15" text-anchor="middle" fill="#111" textLength="12.8" lengthAdjust="spacingAndGlyphs">14.0</text>
<text transform="translate(37.4,336.9) rotate(-90)" font-size="7" stroke="#111" stroke-width="0.15" text-anchor="middle" fill="#111" textLength="12.8" lengthAdjust="spacingAndGlyphs">14.5</text>
<text transform="translate(37.4,272.4) rotate(-90)" font-size="7" stroke="#111" stroke-width="0.15" text-anchor="middle" fill="#111" textLength="12.8" lengthAdjust="spacingAndGlyphs">15.0</text>
<text transform="translate(37.4,207.8) rotate(-90)" font-size="7" stroke="#111" stroke-width="0.15" text-anchor="middle" fill="#111" textLength="12.8" lengthAdjust="spacingAndGlyphs">15.5</text>
<text transform="translate(37.4,143.3) rotate(-90)" font-size="7" stroke="#111" stroke-width="0.15" text-anchor="middle" fill="#111" textLength="12.8" lengthAdjust="spacingAndGlyphs">16.0</text>
<text transform="translate(37.4,78.8) rotate(-90)" font-size="7" stroke="#111" stroke-width="0.15" text-anchor="middle" fill="#111" textLength="12.8" lengthAdjust="spacingAndGlyphs">16.5</text>
<text transform="translate(20.8,248.5) rotate(-90)" font-size="6.9" text-anchor="middle" fill="#111" textLength="96" lengthAdjust="spacingAndGlyphs">Ice Extent in millions of sq. km.</text>
<text x="387.8" y="33" font-size="8.2" font-weight="bold" text-anchor="middle" fill="#000" textLength="166" lengthAdjust="spacingAndGlyphs">Arctic Sea Ice Extent Day 72 1978 to 2019</text>
<text x="388.1" y="482.8" font-size="6.9" text-anchor="middle" fill="#111" textLength="35.3" lengthAdjust="spacingAndGlyphs">Day of Year</text>
<text x="237" y="490.7" font-size="6.9" fill="#111" textLength="302" lengthAdjust="spacingAndGlyphs">Today's Ice Extent: 14.749&#160; - Record for the day: 16.414 which occurred on 1979 3 13&#160; - Mean: 15.45</text>
<text x="12.2" y="483.8" font-size="14" fill="#111" textLength="223" lengthAdjust="spacingAndGlyphs">http://sunshinehours.wordpress.com</text>
</svg></body></html>
